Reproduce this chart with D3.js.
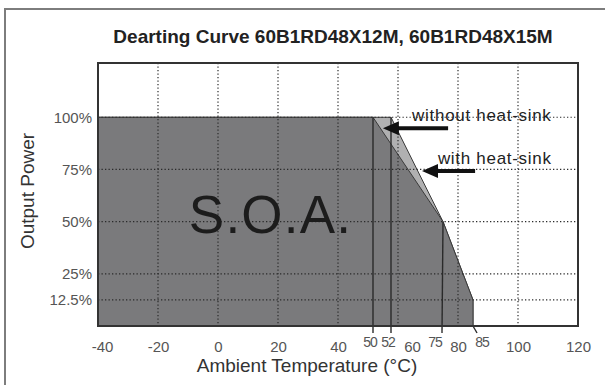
<!DOCTYPE html>
<html>
<head>
<meta charset="utf-8">
<script src="https://cdn.jsdelivr.net/npm/d3@7/dist/d3.min.js"></script>
<style>
  body { margin: 0; background: #fff; }
  svg { display: block; font-family: "Liberation Sans", Arial, sans-serif; }
</style>
</head>
<body>
<svg id="chart" width="605" height="385"></svg>
<script>
// chart data
const title = "Dearting Curve 60B1RD48X12M, 60B1RD48X15M";
const xTicks = [-40, -20, 0, 20, 40, 60, 80, 100, 120];
const yTicks = [100, 75, 50, 25, 12.5];
const yTickLabels = ["100%", "75%", "50%", "25%", "12.5%"];
const gridX = [-20, 0, 20, 40, 60, 80, 100];

// derating outlines (temperature °C, output power %)
const tempWithSink = [-40, 52, 75, 85, 85, -40];
const powerWithSink = [100, 100, 50, 12.5, 0, 0];
const tempNoSink = [-40, 50, 75, 85, 85, -40];
const powerNoSink = [100, 100, 50, 12.5, 0, 0];

// marked break temperatures under the axis
const markTemps = [50, 52, 75, 85];
const markLabels = ["50", "52", "75", "85"];
const markPower = [100, 100, 50, 0];

const svg = d3.select("#chart");
const W = 605, H = 385;
const plot = { left: 98, right: 578, top: 63, bottom: 326 };

// the drawing stretches the 40..60 span so the 50/52 marks stay readable
const x = d3.scaleLinear()
  .domain([-40, 40, 50, 52, 60, 120])
  .range([0, 240, 275, 293, 300, 480].map(d => plot.left + d));
const y = d3.scaleLinear().domain([0, 126]).range([plot.bottom, plot.top]);

// outer frame
svg.append("rect")
  .attr("x", 5).attr("y", 9).attr("width", W + 10).attr("height", H + 10)
  .attr("fill", "none").attr("stroke", "#7d7d7d").attr("stroke-width", 2);

svg.append("text")
  .attr("x", 333).attr("y", 43)
  .attr("text-anchor", "middle")
  .style("font-size", "19px").style("font-weight", "bold").attr("fill", "#222")
  .text(title);

svg.append("rect")
  .attr("x", plot.left).attr("y", plot.top)
  .attr("width", plot.right - plot.left).attr("height", plot.bottom - plot.top)
  .attr("fill", "#fff");

const area = (ts, ps) => d3.line()(ts.map((t, i) => [x(t), y(ps[i])])) + "Z";

svg.append("path")
  .attr("d", area(tempWithSink, powerWithSink))
  .attr("fill", "#b0b0b1").attr("stroke", "#3a3a3a").attr("stroke-width", 1);
svg.append("path")
  .attr("d", area(tempNoSink, powerNoSink))
  .attr("fill", "#7a7a7c").attr("stroke", "#3a3a3a").attr("stroke-width", 1);

// dotted grid
const grid = svg.append("g")
  .attr("stroke", "#2a2a2a").attr("stroke-width", 1.2).attr("stroke-dasharray", "1.3,2.2");
grid.selectAll("line.v").data(gridX).enter().append("line")
  .attr("x1", d => x(d)).attr("x2", d => x(d))
  .attr("y1", plot.top).attr("y2", plot.bottom);
grid.selectAll("line.h").data(yTicks).enter().append("line")
  .attr("x1", plot.left).attr("x2", plot.right)
  .attr("y1", d => y(d)).attr("y2", d => y(d));

// big label
svg.append("text")
  .attr("x", x(17.5)).attr("y", y(44.5))
  .attr("text-anchor", "middle")
  .style("font-size", "53px").style("letter-spacing", "1.2px")
  .attr("fill", "#1c1c1c")
  .text("S.O.A.");

// break markers
const leaderDx = [0, 0, -1, 4];
svg.selectAll("line.mark").data(markTemps).enter().append("line")
  .attr("x1", d => x(d)).attr("y1", (d, i) => y(markPower[i]))
  .attr("x2", (d, i) => x(d) + leaderDx[i]).attr("y2", plot.bottom + 7)
  .attr("stroke", "#2a2a2a").attr("stroke-width", 1.4);

// plot border
svg.append("rect")
  .attr("x", plot.left).attr("y", plot.top)
  .attr("width", plot.right - plot.left).attr("height", plot.bottom - plot.top)
  .attr("fill", "none").attr("stroke", "#333").attr("stroke-width", 2);

// axes (labels only)
const xAxis = svg.append("g")
  .attr("transform", `translate(0,${plot.bottom})`)
  .call(d3.axisBottom(x).tickValues(xTicks).tickSize(0).tickPadding(15).tickFormat(d => String(d)));
const yAxis = svg.append("g")
  .attr("transform", `translate(${plot.left},0)`)
  .call(d3.axisLeft(y).tickValues(yTicks).tickSize(0).tickPadding(6)
    .tickFormat((d, i) => yTickLabels[i]));
[xAxis, yAxis].forEach(a => {
  a.select(".domain").remove();
  a.selectAll("text").style("font-size", "15px").attr("fill", "#555").attr("font-family", null);
});
xAxis.selectAll("text").filter(d => d === 60).attr("dx", "14");
xAxis.selectAll("text").filter(d => d === -40).attr("dx", "4");

const labelDx = [-3, -3, -8, 9];
svg.selectAll("text.mark").data(markTemps).enter().append("text")
  .attr("x", (d, i) => x(d) + labelDx[i]).attr("y", plot.bottom + 21)
  .attr("text-anchor", "middle")
  .style("font-size", "14px").style("letter-spacing", "-1px").attr("fill", "#555")
  .text((d, i) => markLabels[i]);

// axis titles
svg.append("text")
  .attr("x", 307).attr("y", 372)
  .attr("text-anchor", "middle")
  .style("font-size", "19px").attr("fill", "#333")
  .text("Ambient Temperature (°C)");
svg.append("text")
  .attr("transform", "translate(34,191) rotate(-90)")
  .attr("text-anchor", "middle")
  .style("font-size", "19px").attr("fill", "#333")
  .text("Output Power");

// callouts
const callouts = [
  { text: "without heat-sink", tx: 64.7, tp: 98.1, from: [76.7, 94.7], to: [51.1, 94.7] },
  { text: "with heat-sink", tx: 73.3, tp: 77.5, from: [85.7, 74.2], to: [68, 74.2] }
];
callouts.forEach(c => {
  svg.append("text")
    .attr("x", x(c.tx)).attr("y", y(c.tp))
    .style("font-size", "17px").style("letter-spacing", "0.7px").attr("fill", "#222")
    .text(c.text);
  const x0 = x(c.from[0]), x1 = x(c.to[0]), yy = y(c.to[1]);
  svg.append("line")
    .attr("x1", x0).attr("x2", x1 + 12).attr("y1", yy).attr("y2", yy)
    .attr("stroke", "#111").attr("stroke-width", 4);
  svg.append("path")
    .attr("d", d3.line()([[x1, yy], [x1 + 16, yy - 7], [x1 + 16, yy + 7]]) + "Z")
    .attr("fill", "#111");
});
</script>
</body>
</html>
